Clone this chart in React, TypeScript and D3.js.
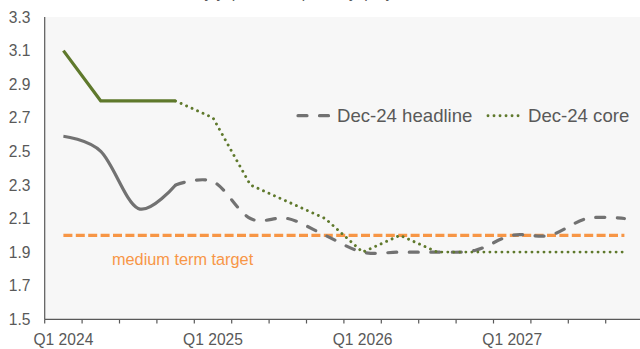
import React from "react";
import * as d3 from "d3";

const categories = [
  "Q1 2024", "Q2 2024", "Q3 2024", "Q4 2024",
  "Q1 2025", "Q2 2025", "Q3 2025", "Q4 2025",
  "Q1 2026", "Q2 2026", "Q3 2026", "Q4 2026",
  "Q1 2027", "Q2 2027", "Q3 2027", "Q4 2027",
];
const headline = [2.59, 2.5, 2.16, 2.3, 2.32, 2.1, 2.1, 2.0, 1.9, 1.9, 1.9, 1.91, 2.0, 2.0, 2.1, 2.1];
const core = [3.1, 2.8, 2.8, 2.8, 2.7, 2.3, 2.2, 2.1, 1.9, 2.0, 1.9, 1.9, 1.9, 1.9, 1.9, 1.9];
const actualEnd = 3; // last outturn index
const target = 2.0;
const yTicks = [1.5, 1.7, 1.9, 2.1, 2.3, 2.5, 2.7, 2.9, 3.1, 3.3];
const xLabels = ["Q1 2024", "Q1 2025", "Q1 2026", "Q1 2027"];
const titleText = "HICP, y/y, per cent, quarterly, projections";

const W = 640;
const H = 349;
const FONT = "'Liberation Sans', Arial, sans-serif";
const TXT = "#595959";
const GRAY = "#727272";
const GREEN = "#5F792C";
const ORANGE = "#F79646";

export default function App() {
  const x = d3.scaleBand<string>().domain(categories).range([44.7, 643.1]).padding(0);
  const y = d3.scaleLinear().domain([1.5, 3.3]).range([319.3, 17]);
  const cx = (i: number) => (x(categories[i]) as number) + x.bandwidth() / 2;

  type P = [number, number];
  const pts = (arr: number[], a: number, b: number): P[] =>
    arr.slice(a, b + 1).map((v, k) => [cx(a + k), y(v)] as P);

  const smooth = d3.line<P>().x(d => d[0]).y(d => d[1]).curve(d3.curveCardinal.tension(0));
  const straight = d3.line<P>().x(d => d[0]).y(d => d[1]);

  const n = categories.length;
  const headSolid = smooth(pts(headline, 0, actualEnd)) || "";
  const headDash = smooth(pts(headline, actualEnd, n - 1)) || "";
  const coreSolid = straight(pts(core, 0, actualEnd)) || "";
  const coreDot = straight(pts(core, actualEnd, n - 1)) || "";

  const boundaries = d3.range(n + 1).map(i => 44.7 + i * x.bandwidth());

  return (
    <svg
      width={W}
      height={H}
      style={{ position: "absolute", left: 0, top: 0, display: "block", background: "#fff" }}
    >
      <rect x={44.7} y={17} width={W - 44.7} height={319.3 - 17} fill="#F7F7F7" />
      <text x={300} y={-2.5} textAnchor="middle" fontFamily={FONT} fontSize={15.5} fill={TXT}>
        {titleText}
      </text>

      {/* y axis labels */}
      {yTicks.map(t => (
        <text
          key={t}
          x={30.5}
          y={y(t)}
          dy="0.36em"
          textAnchor="end"
          fontFamily={FONT}
          fontSize={15.6}
          fill={TXT}
        >
          {t.toFixed(1)}
        </text>
      ))}

      {/* axes */}
      <line x1={44.7} x2={44.7} y1={17} y2={319.3} stroke="#595959" strokeWidth={1.2} />
      <line x1={44.7} x2={W} y1={319.3} y2={319.3} stroke="#595959" strokeWidth={1.2} />
      {boundaries.map((b, i) => (
        <line key={i} x1={b} x2={b} y1={319.3} y2={323.5} stroke="#595959" strokeWidth={1.2} />
      ))}
      {categories.map((c, i) =>
        xLabels.includes(c) ? (
          <text
            key={c}
            x={cx(i)}
            y={345}
            textAnchor="middle"
            fontFamily={FONT}
            fontSize={15.6}
            fill={TXT}
          >
            {c}
          </text>
        ) : null
      )}

      {/* target */}
      <line
        x1={cx(0)}
        x2={cx(n - 1)}
        y1={y(target)}
        y2={y(target)}
        stroke={ORANGE}
        strokeWidth={3.2}
        strokeDasharray="9,3.4"
      />
      <text x={112} y={265} fontFamily={FONT} fontSize={16.3} fill={ORANGE}>
        medium term target
      </text>

      {/* headline */}
      <path d={headSolid} fill="none" stroke={GRAY} strokeWidth={3.2} strokeLinejoin="round" />
      <path
        d={headDash}
        fill="none"
        stroke={GRAY}
        strokeWidth={3.2}
        strokeDasharray="9,12.5"
        strokeLinecap="round"
      />

      {/* core */}
      <path d={coreSolid} fill="none" stroke={GREEN} strokeWidth={3.2} strokeLinejoin="round" />
      <path
        d={coreDot}
        fill="none"
        stroke={GREEN}
        strokeWidth={2.9}
        strokeDasharray="0.01,6"
        strokeLinecap="round"
      />

      {/* legend */}
      <line x1={298} x2={330} y1={115.7} y2={115.7} stroke={GRAY} strokeWidth={3.2} strokeDasharray="9,12.5" strokeLinecap="round" />
      <text x={337} y={122.3} fontFamily={FONT} fontSize={18.6} fill={TXT}>
        Dec-24 headline
      </text>
      <line x1={488} x2={520} y1={115.7} y2={115.7} stroke={GREEN} strokeWidth={2.9} strokeDasharray="0.01,6" strokeLinecap="round" />
      <text x={528} y={122.3} fontFamily={FONT} fontSize={18.6} fill={TXT}>
        Dec-24 core
      </text>
    </svg>
  );
}
